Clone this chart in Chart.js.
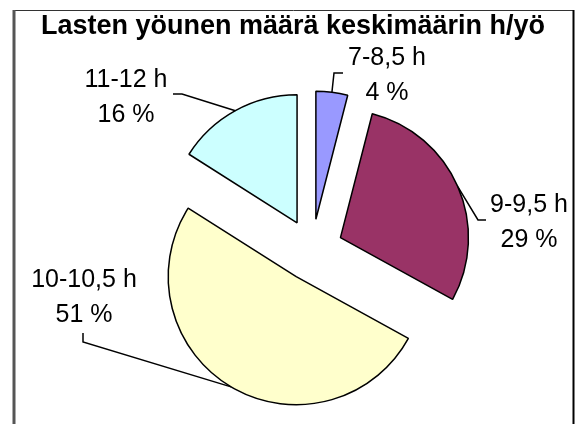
<!DOCTYPE html>
<html>
<head>
<meta charset="utf-8">
<script src="https://cdn.jsdelivr.net/npm/chart.js@4.4.1/dist/chart.umd.min.js"></script>
<style>
  body { margin: 0; background: #fff; }
  #wrap { width: 579px; height: 424px; position: relative; }
</style>
</head>
<body>
<div id="wrap"><canvas id="sleepChart" width="579" height="424"></canvas></div>
<script>
const chartTitle = 'Lasten yöunen määrä keskimäärin h/yö';
const categories = ['7-8,5 h', '9-9,5 h', '10-10,5 h', '11-12 h'];
const shares = [4, 29, 51, 16];
const sliceColors = ['#9999FF', '#993366', '#FFFFCC', '#CCFFFF'];

// where each label sits (centre x, first baseline) and the bend + end of its leader line
const labelPos = [
  { x: 387, y: 65, elbow: [334, 73], end: [343, 73] },
  { x: 529, y: 212, elbow: [478, 220], end: [486, 220] },
  { x: 84, y: 287, elbow: [83, 342], end: [83, 333] },
  { x: 126, y: 87, elbow: [182, 94], end: [173, 94] }
];

// how far every slice is pulled out of the pie, px
const explode = 31;

// chart.js "offset" also grows the radius of thin/wide slices, so move the arcs ourselves
const explodePlugin = {
  id: 'explode',
  afterDatasetUpdate(chart, args) {
    chart.getDatasetMeta(args.index).data.forEach(arc => {
      const mid = (arc.startAngle + arc.endAngle) / 2;
      arc.x += Math.cos(mid) * explode;
      arc.y += Math.sin(mid) * explode;
    });
  }
};

const labelPlugin = {
  id: 'labels',
  afterDraw(chart) {
    const ctx = chart.ctx;
    const arcs = chart.getDatasetMeta(0).data;
    ctx.save();

    // frame
    ctx.lineWidth = 1;
    ctx.strokeStyle = '#333';
    ctx.beginPath();
    ctx.moveTo(13, 10.5);
    ctx.lineTo(574, 10.5);
    ctx.stroke();
    ctx.lineWidth = 3;
    ctx.strokeStyle = '#555';
    ctx.beginPath();
    ctx.moveTo(14, 10);
    ctx.lineTo(14, 424);
    ctx.stroke();
    ctx.lineWidth = 2;
    ctx.strokeStyle = '#000';
    ctx.beginPath();
    ctx.moveTo(573.5, 10);
    ctx.lineTo(573.5, 424);
    ctx.stroke();

    // title
    ctx.fillStyle = '#000';
    ctx.textAlign = 'center';
    ctx.textBaseline = 'alphabetic';
    ctx.font = 'bold 27px "Liberation Sans", Arial, sans-serif';
    ctx.fillText(chartTitle, 293, 34);

    ctx.font = '25px "Liberation Sans", Arial, sans-serif';
    arcs.forEach((arc, i) => {
      const mid = (arc.startAngle + arc.endAngle) / 2;
      const ax = arc.x + Math.cos(mid) * arc.outerRadius;
      const ay = arc.y + Math.sin(mid) * arc.outerRadius;
      const lp = labelPos[i];

      ctx.strokeStyle = '#000';
      ctx.lineWidth = 1.5;
      ctx.beginPath();
      ctx.moveTo(ax, ay);
      ctx.lineTo(lp.elbow[0], lp.elbow[1]);
      ctx.lineTo(lp.end[0], lp.end[1]);
      ctx.stroke();

      ctx.fillText(categories[i], lp.x, lp.y);
      ctx.fillText(shares[i] + ' %', lp.x, lp.y + 35);
    });
    ctx.restore();
  }
};

new Chart(document.getElementById('sleepChart'), {
  type: 'pie',
  data: {
    labels: categories,
    datasets: [{
      data: shares,
      backgroundColor: sliceColors,
      borderColor: '#000',
      borderWidth: 1.5
    }]
  },
  options: {
    responsive: false,
    animation: false,
    events: [],
    radius: 128,
    layout: { padding: { left: 162, right: 117, top: 100, bottom: 24 } },
    plugins: {
      legend: { display: false },
      tooltip: { enabled: false }
    }
  },
  plugins: [explodePlugin, labelPlugin]
});
</script>
</body>
</html>
